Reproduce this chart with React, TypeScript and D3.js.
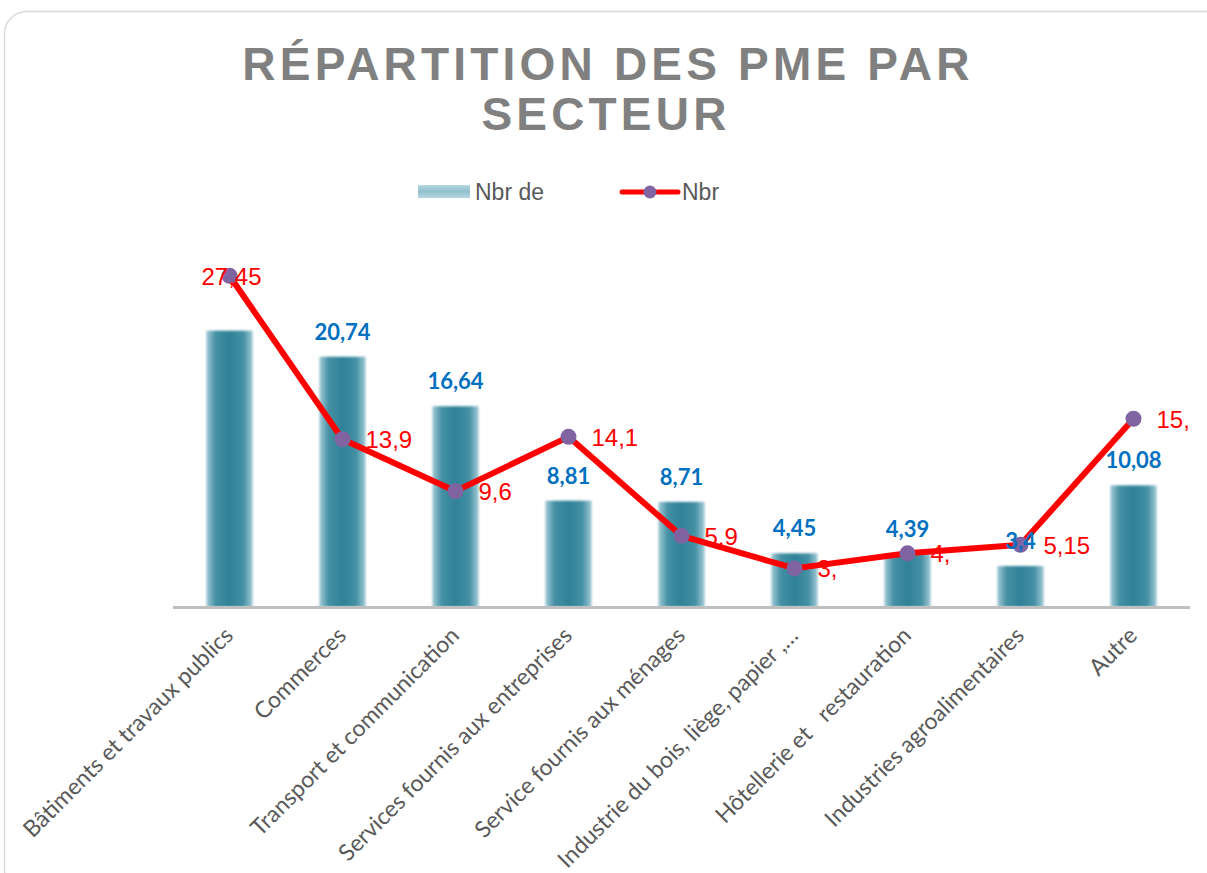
import React, { useEffect, useRef } from 'react';
import * as d3 from 'd3';

const categories = [
  'Bâtiments et travaux publics',
  'Commerces',
  'Transport et communication',
  'Services fournis aux entreprises',
  'Service fournis aux ménages',
  'Industrie du bois, liège, papier ,…',
  'Hôtellerie et   restauration',
  'Industries agroalimentaires',
  'Autre',
];

// série barres "Nbr de" (premier libellé masqué dans l'original)
const barValues = [22.9, 20.74, 16.64, 8.81, 8.71, 4.45, 4.39, 3.4, 10.08];
const barLabels = ['', '20,74', '16,64', '8,81', '8,71', '4,45', '4,39', '3,4', '10,08'];

// série ligne "Nbr" (libellés tronqués comme dans l'original)
const lineValues = [27.45, 13.9, 9.6, 14.1, 5.9, 3.2, 4.45, 5.15, 15.6];
const lineLabels = ['27,45', '13,9', '9,6', '14,1', '5,9', '3,', '4,', '5,15', '15,'];

const W = 1207;
const H = 873;

const App: React.FC = () => {
  const ref = useRef<SVGSVGElement>(null);

  useEffect(() => {
    drawChart();
  }, []);

  const drawChart = () => {
    const svg = d3.select(ref.current);
    svg.selectAll('*').remove();

    const defs = svg.append('defs');
    const grad = defs.append('linearGradient').attr('id', 'barGrad')
      .attr('x1', '0%').attr('x2', '100%').attr('y1', '0%').attr('y2', '0%');
    [['0%', '#a3ccd6'], ['20%', '#4590a5'], ['50%', '#2f8298'], ['80%', '#4590a5'], ['100%', '#a3ccd6']]
      .forEach(([o, c]) => grad.append('stop').attr('offset', o).attr('stop-color', c));
    const lgGrad = defs.append('linearGradient').attr('id', 'legGrad')
      .attr('x1', '0%').attr('x2', '0%').attr('y1', '0%').attr('y2', '100%');
    [['0%', '#b7d8e0'], ['50%', '#8fc0cc'], ['100%', '#b7d8e0']]
      .forEach(([o, c]) => lgGrad.append('stop').attr('offset', o).attr('stop-color', c));
    defs.append('filter').attr('id', 'soft')
      .attr('x', '-10%').attr('y', '-5%').attr('width', '120%').attr('height', '110%')
      .append('feGaussianBlur').attr('stdDeviation', 1.2);

    // cadre
    svg.append('rect')
      .attr('x', 4.5).attr('y', 11.5).attr('width', 1225).attr('height', 880)
      .attr('rx', 22).attr('fill', '#fff').attr('stroke', '#d9d9d9').attr('stroke-width', 1.5);

    // titre
    const title = svg.append('text')
      .attr('text-anchor', 'middle')
      .attr('font-family', 'Liberation Sans, Arial, sans-serif')
      .attr('font-weight', 'bold')
      .attr('font-size', 46)
      .attr('letter-spacing', 4.2)
      .attr('fill', '#808080');
    title.append('tspan').attr('x', 608).attr('y', 80).text('RÉPARTITION DES PME PAR');
    title.append('tspan').attr('x', 606).attr('y', 130).text('SECTEUR');

    // légende
    const leg = svg.append('g').attr('font-family', 'Liberation Sans, Arial, sans-serif')
      .attr('font-size', 23).attr('fill', '#595959');
    leg.append('rect').attr('x', 418).attr('y', 185).attr('width', 52).attr('height', 13)
      .attr('fill', 'url(#legGrad)');
    leg.append('text').attr('x', 475).attr('y', 200).text('Nbr de');
    leg.append('line').attr('x1', 622).attr('x2', 678).attr('y1', 192).attr('y2', 192)
      .attr('stroke', '#ff0000').attr('stroke-width', 5).attr('stroke-linecap', 'round');
    leg.append('circle').attr('cx', 650).attr('cy', 192).attr('r', 6.5).attr('fill', '#8064a2');
    leg.append('text').attr('x', 682).attr('y', 200).text('Nbr');

    const x = d3.scaleBand()
      .domain(categories)
      .range([173, 1190])
      .paddingInner(0.59)
      .paddingOuter(0.295);

    const y = d3.scaleLinear().domain([0, 30]).range([607, 245]);
    const cx = (d: string) => (x(d) ?? 0) + x.bandwidth() / 2;

    // barres
    svg.append('g').attr('filter', 'url(#soft)')
      .selectAll('rect')
      .data(barValues)
      .enter().append('rect')
      .attr('x', (d, i) => x(categories[i]) ?? 0)
      .attr('y', d => y(d))
      .attr('width', x.bandwidth())
      .attr('height', d => y(0) - y(d))
      .attr('fill', 'url(#barGrad)');

    // axe X
    svg.append('line')
      .attr('x1', 173).attr('x2', 1190).attr('y1', 607.5).attr('y2', 607.5)
      .attr('stroke', '#bfbfbf').attr('stroke-width', 3);

    svg.append('g')
      .selectAll('text')
      .data(categories)
      .enter().append('text')
      .attr('transform', d => `translate(${cx(d) + 5},${637}) rotate(-45)`)
      .attr('text-anchor', 'end')
      .attr('font-family', 'Lato, sans-serif')
      .attr('font-size', 23)
      .attr('fill', '#595959')
      .style('white-space', 'pre')
      .text(d => d);

    // ligne
    const line = d3.line<number>()
      .x((d, i) => cx(categories[i]))
      .y(d => y(d));

    svg.append('path')
      .datum(lineValues)
      .attr('d', line)
      .attr('fill', 'none')
      .attr('stroke', '#ff0000')
      .attr('stroke-width', 6)
      .attr('stroke-linejoin', 'round');

    svg.append('g')
      .selectAll('circle')
      .data(lineValues)
      .enter().append('circle')
      .attr('cx', (d, i) => cx(categories[i]))
      .attr('cy', d => y(d))
      .attr('r', 8)
      .attr('fill', '#8064a2');

    // étiquettes ligne
    svg.append('g')
      .selectAll('text')
      .data(lineValues)
      .enter().append('text')
      .attr('x', (d, i) => i === 0 ? cx(categories[i]) + 2 : cx(categories[i]) + 23)
      .attr('y', d => y(d) + 9)
      .attr('text-anchor', (d, i) => i === 0 ? 'middle' : 'start')
      .attr('font-family', 'Liberation Sans, Arial, sans-serif')
      .attr('font-size', 24)
      .attr('fill', '#ff0000')
      .text((d, i) => lineLabels[i]);

    // étiquettes barres
    svg.append('g')
      .selectAll('text')
      .data(barValues)
      .enter().append('text')
      .attr('x', (d, i) => cx(categories[i]))
      .attr('y', d => y(d) - 17)
      .attr('text-anchor', 'middle')
      .attr('font-family', 'Lato, sans-serif')
      .attr('font-weight', 'bold')
      .attr('font-size', 22)
      .attr('fill', '#0070c0')
      .text((d, i) => barLabels[i]);
  };

  return (
    <svg
      ref={ref}
      width={W}
      height={H}
      style={{ position: 'absolute', left: 0, top: 0, background: '#fff' }}
    />
  );
};

export default App;
